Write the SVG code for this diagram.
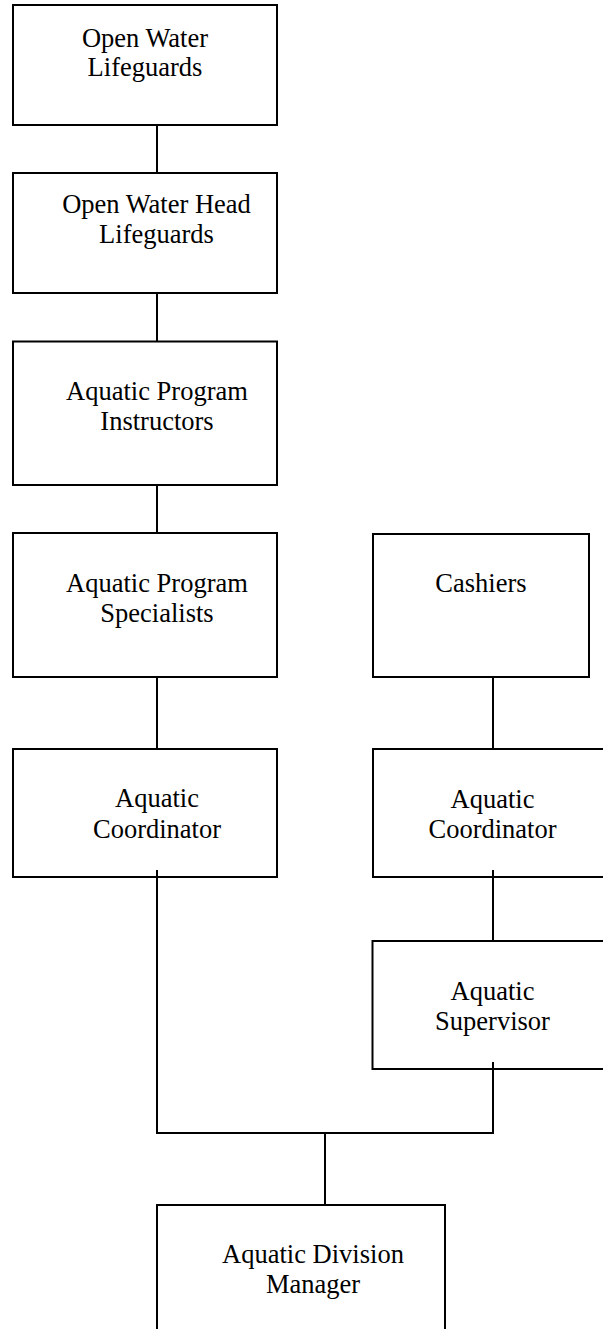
<svg xmlns="http://www.w3.org/2000/svg" width="603" height="1329" viewBox="0 0 603 1329">
<style>
.box{fill:#fff;stroke:#000;stroke-width:2}
.open{fill:#fff;stroke:none}
.edge{fill:none;stroke:#000;stroke-width:2}
text{font-family:"Liberation Serif","Times New Roman",serif;font-size:26.5px;fill:#000;text-anchor:middle}
.conn{fill:none;stroke:#000;stroke-width:2}
</style>
<rect width="603" height="1329" fill="#fff"/>
<g id="n1"><rect class="box" x="13" y="5" width="264" height="120"/><text x="145" y="47">Open Water</text><text x="145" y="76">Lifeguards</text></g>
<g id="n2"><rect class="box" x="13" y="173" width="264" height="120"/><text x="156.5" y="213">Open Water Head</text><text x="156.5" y="243">Lifeguards</text></g>
<g id="n3"><rect class="box" x="13" y="341.5" width="264" height="143.5"/><text x="157" y="400">Aquatic Program</text><text x="157" y="430">Instructors</text></g>
<g id="n4"><rect class="box" x="13" y="533" width="264" height="144"/><text x="157" y="592">Aquatic Program</text><text x="157" y="622">Specialists</text></g>
<g id="n5"><rect class="box" x="13" y="749" width="264" height="128"/><text x="157" y="807">Aquatic</text><text x="157" y="838">Coordinator</text></g>
<g id="n6"><rect class="box" x="373" y="534" width="216" height="143"/><text x="481" y="592">Cashiers</text></g>
<g id="n7"><path class="edge" d="M610,749 H373 V877 H610"/><text x="492.5" y="808">Aquatic</text><text x="492.5" y="838">Coordinator</text></g>
<g id="n8"><path class="edge" d="M610,941 H372.5 V1069 H610"/><text x="492.5" y="1000">Aquatic</text><text x="492.5" y="1030">Supervisor</text></g>
<g id="n9"><path class="edge" d="M157,1340 V1205 H445 V1340"/><text x="313" y="1263">Aquatic Division</text><text x="313" y="1293">Manager</text></g>
<g id="connectors">
<line class="conn" x1="157" y1="125" x2="157" y2="173"/>
<line class="conn" x1="157" y1="293" x2="157" y2="341.5"/>
<line class="conn" x1="157" y1="485" x2="157" y2="533"/>
<line class="conn" x1="157" y1="677" x2="157" y2="749"/>
<line class="conn" x1="493" y1="677" x2="493" y2="749"/>
<line class="conn" x1="493" y1="870" x2="493" y2="941"/>
<path class="conn" d="M157,870 V1133 H493 V1062"/>
<line class="conn" x1="325" y1="1133" x2="325" y2="1205"/>
</g>
</svg>
